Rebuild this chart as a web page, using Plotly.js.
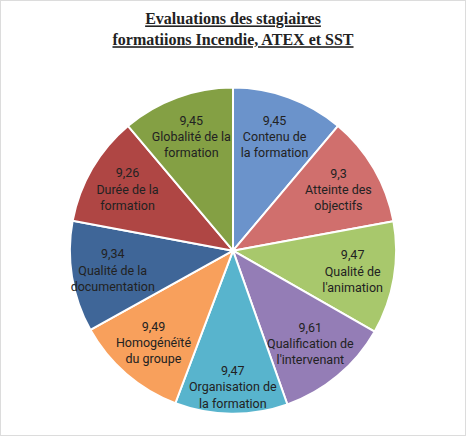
<!DOCTYPE html>
<html>
<head>
<meta charset="utf-8">
<script src="https://cdn.plot.ly/plotly-3.0.1.min.js"></script>
<style>
  html, body { margin: 0; padding: 0; background: #fff; }
  #chart { width: 466px; height: 436px; }
</style>
</head>
<body>
<div id="chart"></div>
<script>
// categories, clockwise from 12 o'clock
const categories = [
    'Contenu de<br>la formation',
    'Atteinte des<br>objectifs',
    'Qualité de<br>l\'animation',
    'Qualification de<br>l\'intervenant',
    'Organisation de<br>la formation',
    'Homogénéïté<br>du groupe',
    'Qualité de la<br>documentation',
    'Durée de la<br>formation',
    'Globalité de la<br>formation'
];
const scores = [9.45, 9.3, 9.47, 9.61, 9.47, 9.49, 9.34, 9.26, 9.45];
const sliceColors = [
    '#6b93cb', '#d06f6d', '#a8c86c', '#947db6', '#58b4cd',
    '#f8a05c', '#3f6698', '#af4644', '#84a044'
];

const trace = {
    type: 'pie',
    labels: categories,
    values: scores,
    sort: false,
    direction: 'clockwise',
    rotation: 0,
    marker: {
        colors: sliceColors,
        line: { color: '#ffffff', width: 2 }
    },
    texttemplate: '%{value}<br>%{label}',
    textposition: 'inside',
    insidetextorientation: 'horizontal',
    textfont: { family: 'Roboto, sans-serif', size: 12.5, color: '#222222' },
    hoverinfo: 'skip',
    showlegend: false,
    domain: { x: [0.15, 0.85], y: [0.05, 0.8] }
};

const layout = {
    width: 466,
    height: 436,
    paper_bgcolor: '#ffffff',
    margin: { t: 0, b: 0, l: 0, r: 0 },
    separators: ', ',
    uniformtext: { minsize: 12.5, mode: 'show' },
    title: {
        text: 'Evaluations des stagiaires<br>formatiions Incendie, ATEX et SST',
        x: 0.5,
        xanchor: 'center',
        y: 0.944,
        yanchor: 'top',
        font: { family: '"Liberation Serif", serif', size: 16, color: '#222222', weight: 'bold', lineposition: 'under' }
    },
    shapes: [{
        type: 'rect', xref: 'paper', yref: 'paper',
        x0: 0, x1: 1, y0: 0, y1: 1,
        line: { color: '#dcdcdc', width: 2 }
    }]
};

Plotly.newPlot('chart', [trace], layout, { displayModeBar: false, staticPlot: true });
</script>
</body>
</html>
